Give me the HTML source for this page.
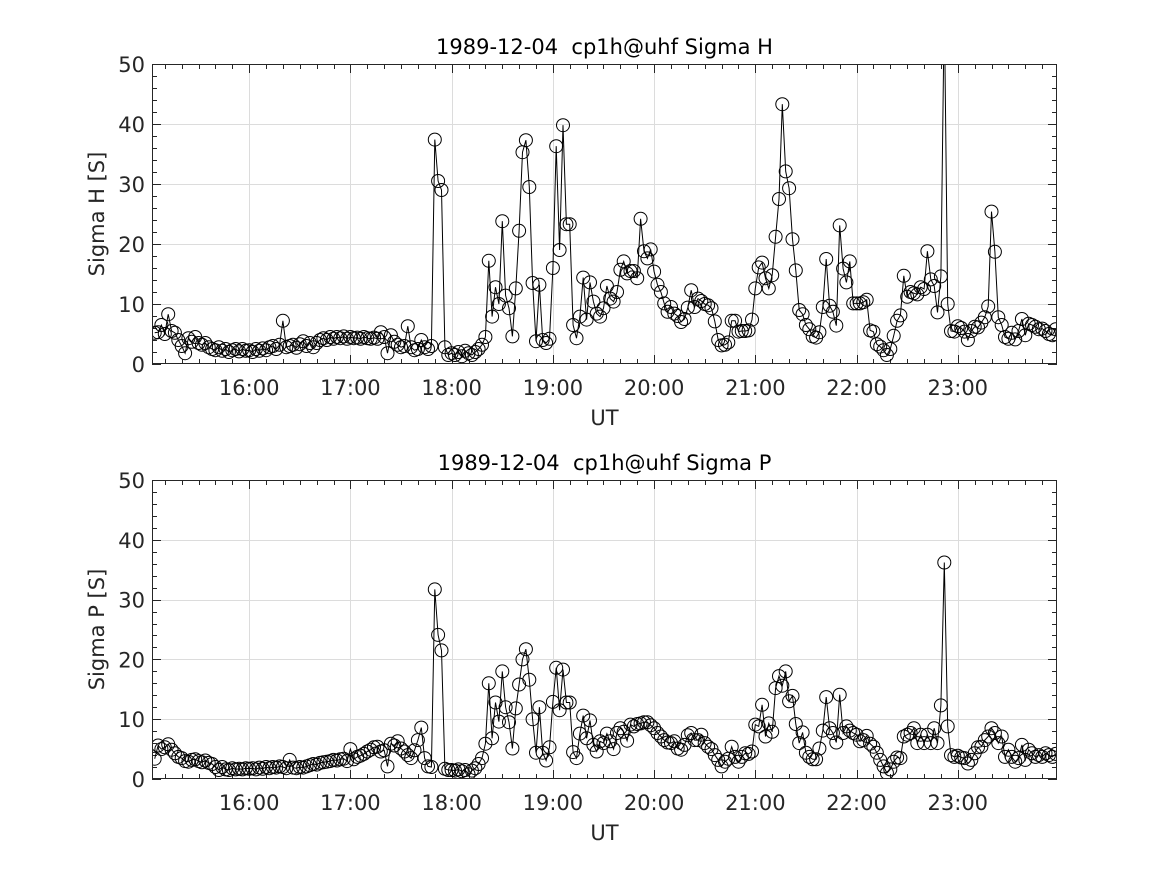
<!DOCTYPE html>
<html><head><meta charset="utf-8"><title>Sigma H / Sigma P</title>
<style>
html,body{margin:0;padding:0;background:#fff;}
svg{display:block;font-family:"DejaVu Sans","Liberation Sans",sans-serif;}
</style></head>
<body>
<svg id="chart" width="1167" height="875" viewBox="0 0 1167 875" xmlns="http://www.w3.org/2000/svg"></svg>
<script>
// Time axis: samples every 2 minutes starting at 15:04 UT
const startHour = 15 + 4/60;
const stepHour = 1/30;
const xTickLabels = ["16:00","17:00","18:00","19:00","20:00","21:00","22:00","23:00"];
const xTickHours = [16,17,18,19,20,21,22,23];
const yTickValues = [0,10,20,30,40,50];

const sigmaH = [
5.2,5.3,6.5,5.0,8.3,5.5,5.2,4.0,3.0,1.8,4.3,3.7,4.5,3.5,3.2,3.5,2.8,2.5,2.3,2.8,2.2,2.5,2.0,2.3,2.5,2.1,2.5,2.2,
2.3,2.0,2.5,2.2,2.6,2.3,2.8,3.0,2.5,3.2,7.2,2.8,3.0,3.2,2.7,3.3,3.8,3.0,3.5,2.8,3.5,4.0,4.3,4.0,4.5,4.2,4.5,4.3,4.6,4.2,
4.5,4.3,4.4,4.2,4.5,4.3,4.2,4.4,4.2,5.3,4.5,1.8,4.8,3.7,3.2,2.8,3.0,6.3,2.8,2.3,2.5,4.0,2.8,2.5,3.0,37.4,30.5,29.0,2.8,1.5,
1.8,1.5,2.0,1.3,2.2,1.8,1.5,2.0,2.5,3.2,4.5,17.2,7.9,12.8,10.0,23.8,11.4,9.3,4.6,12.6,22.2,35.3,37.3,29.5,13.5,3.8,13.2,4.0,3.5,4.2,
16.0,36.3,19.0,39.8,23.3,23.3,6.5,4.3,7.9,14.4,7.4,13.6,10.4,8.4,7.9,9.3,13.0,10.9,10.4,12.0,15.7,17.1,15.1,15.5,15.5,14.3,24.2,18.8,17.6,19.1,
15.4,13.2,12.0,10.1,8.7,9.5,8.4,8.0,7.0,7.5,9.4,12.3,9.5,10.9,10.5,10.0,9.8,9.3,7.1,4.0,3.1,3.2,3.6,7.2,7.2,5.4,5.5,5.5,5.6,7.4,
12.6,16.1,16.9,14.3,12.6,14.8,21.2,27.5,43.3,32.1,29.3,20.8,15.6,9.0,8.3,6.5,5.8,4.6,4.4,5.3,9.5,17.5,9.7,8.7,6.4,23.1,15.9,13.6,17.1,10.1,
10.1,10.1,10.3,10.7,5.6,5.4,3.3,2.9,2.3,1.5,2.5,4.7,7.2,8.1,14.7,11.2,12.0,11.8,11.6,12.8,12.5,18.8,14.1,13.0,8.6,14.6,60.0,10.0,5.5,5.4,
6.3,6.0,5.4,4.0,5.5,6.2,6.1,6.9,7.8,9.6,25.4,18.7,7.8,6.5,4.5,4.2,5.2,4.1,5.5,7.5,4.8,6.7,6.5,6.2,5.8,5.9,5.5,5.0,4.8,5.8
];

const sigmaP = [
3.4,5.6,5.0,5.3,5.8,4.9,4.3,3.7,3.5,3.0,2.9,3.2,3.3,3.0,2.8,3.1,2.7,2.5,2.0,1.5,2.0,1.6,1.5,1.8,1.6,1.7,1.6,1.8,
1.7,1.8,1.6,1.9,1.7,2.0,1.8,2.0,1.9,2.1,2.0,1.8,3.2,1.9,1.8,2.0,1.9,2.1,2.3,2.5,2.4,2.7,2.8,2.9,3.0,3.2,3.1,3.3,3.4,3.0,
5.0,3.3,3.7,3.9,4.2,4.6,4.9,5.3,5.4,4.6,4.8,2.1,5.9,5.6,6.3,5.1,4.6,4.0,3.5,4.8,6.5,8.6,3.5,2.1,2.0,31.7,24.1,21.5,1.7,1.5,
1.5,1.4,1.6,1.3,1.5,0.8,1.4,1.8,2.5,3.5,5.9,16.0,6.8,12.8,9.6,18.0,12.0,9.5,5.1,11.8,15.8,20.0,21.7,16.6,10.0,4.4,12.0,4.4,3.1,5.3,
12.9,18.6,11.5,18.3,12.8,12.8,4.5,3.5,7.6,10.6,6.8,9.8,5.7,4.6,6.3,6.0,7.6,6.3,5.0,7.7,8.5,7.9,6.4,9.1,8.8,9.2,9.3,9.5,9.5,9.0,
8.5,7.7,7.1,6.5,6.1,6.0,6.3,5.1,4.9,5.7,7.3,7.7,6.5,6.5,7.4,6.0,5.4,5.0,4.0,3.2,2.1,2.9,3.4,5.4,3.7,2.9,3.7,4.3,4.2,4.6,
9.1,8.8,12.4,7.1,9.3,7.9,15.2,17.2,15.6,18.0,13.0,13.9,9.2,6.0,7.8,4.4,3.7,3.3,3.3,5.1,8.1,13.7,8.5,7.7,6.1,14.1,7.7,8.8,8.1,7.7,
7.4,6.3,6.5,7.2,5.9,5.4,4.4,3.2,2.1,1.0,1.6,2.9,3.6,3.5,7.1,7.4,7.7,8.5,6.0,7.4,6.0,7.4,6.0,8.5,6.0,12.3,36.2,8.8,4.0,3.7,
3.9,3.6,3.5,2.6,3.2,4.3,5.3,5.4,6.5,7.1,8.5,7.7,6.0,7.1,3.7,4.9,3.7,2.9,3.5,5.7,3.2,4.9,4.3,3.7,4.0,3.7,4.3,4.0,3.7,4.2
];

const NS = "http://www.w3.org/2000/svg";
const svg = document.getElementById("chart");
const X0 = 152, X1 = 1057;
const xMin = 15 + 2.4/60, xMax = 23 + 58.8/60;
function xScale(h){ return X0 + (h - xMin) / (xMax - xMin) * (X1 - X0); }

function mk(tag, attrs, parent){
  const e = document.createElementNS(NS, tag);
  for (const k in attrs) e.setAttribute(k, attrs[k]);
  (parent || svg).appendChild(e);
  return e;
}

function panel(top, bottom, values, title, ylabel, key){
  const yScale = v => bottom - v / 50 * (bottom - top);
  const g = mk("g", {});
  
  
  const defs = mk("clipPath", {id: "clip-" + key}, g);
  mk("rect", {x: X0, y: top, width: X1 - X0, height: bottom - top}, defs);

  const grid = mk("g", {stroke: "#dcdcdc", "stroke-width": 1}, g);
  
  
  xTickHours.forEach(h => { const x = Math.round(xScale(h)) + 0.5; mk("line", {x1: x, x2: x, y1: top, y2: bottom}, grid); });
  yTickValues.forEach(v => { if (v > 0 && v < 50) { const y = Math.round(yScale(v)) + 0.5; mk("line", {x1: X0, x2: X1, y1: y, y2: y}, grid); } });

  const ticks = mk("g", {stroke: "#262626", "stroke-width": 1}, g);
  
  
  for (let m = 0; m <= 9 * 6; m++) {
    const h = 15 + m / 6;
    if (h < xMin || h > xMax) continue;
    const x = Math.round(xScale(h)) + 0.5;
    const len = (m % 6 === 0) ? 9 : 5;
    mk("line", {x1: x, x2: x, y1: bottom, y2: bottom - len}, ticks);
    mk("line", {x1: x, x2: x, y1: top, y2: top + len}, ticks);
  }
  for (let v = 0; v <= 50; v += 2) {
    const y = Math.round(yScale(v)) + 0.5;
    const len = (v % 10 === 0) ? 9 : 5;
    mk("line", {x1: X0, x2: X0 + len, y1: y, y2: y}, ticks);
    mk("line", {x1: X1, x2: X1 - len, y1: y, y2: y}, ticks);
  }

  const pts = values.map((v, i) => [xScale(startHour + i * stepHour), yScale(v)]);
  const dg = mk("g", {"clip-path": "url(#clip-" + key + ")"}, g);
  const line = mk("polyline", {points: pts.map(p => p[0].toFixed(1) + "," + p[1].toFixed(1)).join(" "), fill: "none", stroke: "#000", "stroke-width": 1}, dg);
  
  
  pts.forEach(p => {
    const c = mk("circle", {cx: p[0].toFixed(1), cy: p[1].toFixed(1), r: 6.5, fill: "none", stroke: "#000", "stroke-width": 1}, dg);
    
    
  });

  const box = mk("rect", {x: X0 + 0.5, y: top + 0.5, width: X1 - X0 - 1, height: bottom - top - 1, fill: "none", stroke: "#262626", "stroke-width": 1}, g);
  
  

  xTickHours.forEach((h, i) => {
    const t = mk("text", {x: xScale(h), y: bottom + 31, "text-anchor": "middle", "font-size": 21, fill: "#262626"}, g);
    t.textContent = xTickLabels[i];
    
    
  });
  yTickValues.forEach(v => {
    const t = mk("text", {x: X0 - 7, y: yScale(v) + 8, "text-anchor": "end", "font-size": 21, fill: "#262626"}, g);
    t.textContent = String(v);
    
    
  });

  const tt = mk("text", {x: (X0 + X1) / 2, y: top - 10, "text-anchor": "middle", "font-size": 21, fill: "#000"}, g);
  tt.setAttribute("xml:space", "preserve");
  tt.style.whiteSpace = "pre";
  tt.textContent = title;
  
  

  const xl = mk("text", {x: (X0 + X1) / 2, y: bottom + 61, "text-anchor": "middle", "font-size": 21, fill: "#262626"}, g);
  xl.textContent = "UT";
  
  

  const cy = (top + bottom) / 2;
  const yl = mk("text", {x: 104, y: cy, "text-anchor": "middle", "font-size": 21, fill: "#262626", transform: "rotate(-90 104 " + cy + ")"}, g);
  yl.textContent = ylabel;
  
  
}

panel(64, 364, sigmaH, "1989-12-04\u00a0\u00a0cp1h@uhf Sigma H", "Sigma H [S]", "sigma-h");
panel(480, 779, sigmaP, "1989-12-04\u00a0\u00a0cp1h@uhf Sigma P", "Sigma P [S]", "sigma-p");
</script>
</body></html>
